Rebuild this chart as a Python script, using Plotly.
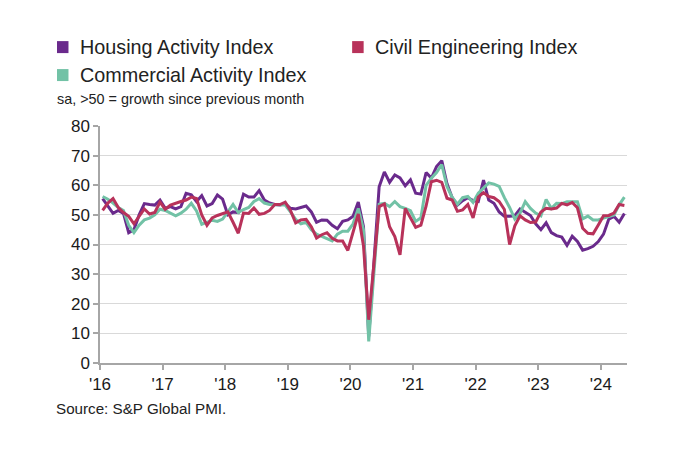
import plotly.graph_objects as go

# Monthly data, Jan 2016 .. May 2024 (101 months)
months = list(range(101))

housing = [
    55.5, 53.0, 50.5, 51.5, 50.5, 44.0, 45.0, 50.0, 53.8, 53.5, 53.3, 55.0,   # 2016
    52.2, 52.8, 52.0, 52.8, 57.3, 56.8, 54.5, 56.5, 53.0, 53.8, 56.7, 55.3,   # 2017
    50.0, 51.0, 50.8, 57.0, 56.0, 56.0, 58.2, 55.0, 54.0, 53.5, 53.3, 53.8,   # 2018
    52.2, 52.0, 52.5, 53.0, 51.0, 47.5, 48.3, 48.2, 46.5, 45.3, 47.8, 48.3,   # 2019
    49.5, 54.3, 46.0, 9.0, 34.0, 59.5, 64.5, 61.0, 63.5, 62.5, 59.8, 61.8,    # 2020
    57.3, 57.0, 64.3, 62.4, 66.3, 68.3, 60.5, 55.8, 53.3, 54.8, 55.8, 54.8,   # 2021
    54.5, 61.7, 55.0, 53.9, 51.0, 49.5, 49.5, 49.7, 52.0, 51.0, 49.8, 47.0,   # 2022
    45.0, 47.3, 44.0, 43.0, 42.5, 39.7, 42.8, 41.0, 38.1, 38.6, 39.4, 41.0,   # 2023
    43.5, 48.5, 49.5, 47.5, 50.5,                                             # 2024
]

commercial = [
    56.2, 55.3, 54.0, 52.5, 51.5, 46.5, 44.0, 46.5, 48.3, 48.9, 50.0, 51.9,
    51.5, 50.6, 49.7, 50.6, 51.9, 53.9, 51.3, 46.8, 47.5, 48.2, 47.8, 48.6,
    51.0, 53.5, 50.8, 51.8, 52.5, 54.5, 55.5, 54.0, 53.5, 53.5, 53.5, 53.3,
    51.0, 48.5, 47.0, 47.5, 45.0, 43.5, 42.7, 42.0, 41.2, 43.5, 44.5, 44.5,
    47.0, 52.2, 45.0, 7.3, 30.0, 53.6, 53.9, 52.8, 54.5, 52.8, 52.2, 51.4,
    47.8, 49.0, 60.0, 62.4, 64.3, 67.0, 59.6, 55.9, 53.6, 55.8, 56.2, 54.2,
    57.3, 59.0, 60.8, 60.4, 59.6, 55.8, 52.5, 48.6, 50.6, 54.5, 52.2, 50.6,
    49.7, 55.2, 52.2, 53.9, 53.8, 54.4, 54.4, 54.4, 48.7, 49.6, 48.3, 48.3,
    48.9, 49.4, 50.0, 53.4, 56.0,
]

civil = [
    51.5, 54.0, 55.5, 52.5, 50.8, 49.5, 47.0, 49.5, 52.0, 50.3, 50.8, 54.3,
    51.9, 53.3, 54.0, 54.5, 55.0, 56.0, 55.5, 50.0, 46.5, 49.0, 49.8, 50.5,
    51.0, 47.5, 43.8, 50.6, 50.5, 52.3, 50.2, 50.5, 51.5, 53.5, 53.5, 54.3,
    51.5, 47.3, 48.3, 48.5, 46.0, 42.2, 43.3, 44.0, 42.1, 41.2, 41.2, 38.0,
    44.0, 50.3, 39.5, 14.6, 33.5, 52.8, 53.7, 46.0, 42.7, 36.5, 52.2, 48.9,
    45.8, 46.5, 53.0, 61.2, 61.7, 61.0, 55.6, 55.0, 51.2, 51.7, 53.5, 49.0,
    56.0, 57.5, 56.2, 55.8, 54.5, 51.8, 40.0, 46.3, 49.7, 48.3, 47.4, 47.6,
    51.0, 52.2, 52.0, 52.3, 53.9, 53.4, 54.2, 52.4, 45.5, 43.8, 43.6, 46.6,
    49.7, 49.8, 50.6, 53.5, 53.2,
]

tick_positions = [-0.5 + 12 * k for k in range(9)]
tick_labels = ["'16", "'17", "'18", "'19", "'20", "'21", "'22", "'23", "'24"]

PURPLE = "#6a2a8c"
TEAL = "#72c2a6"
RED = "#b8325a"

OFF = 8  # page body margin
W, H = 685, 454
L, T = 92, 118
R = W + OFF - 626.7
B = H + OFF - 363.3

fig = go.Figure()
fig.add_trace(go.Scatter(x=months, y=housing, mode="lines", name="Housing Activity Index",
                         line=dict(color=PURPLE, width=3)))
fig.add_trace(go.Scatter(x=months, y=commercial, mode="lines", name="Commercial Activity Index",
                         line=dict(color=TEAL, width=3)))
fig.add_trace(go.Scatter(x=months, y=civil, mode="lines", name="Civil Engineering Index",
                         line=dict(color=RED, width=3)))

def xp(px):
    return (px - OFF - L) / (W - L - R)

def yp(py):
    return (H - B - (py - OFF)) / (H - T - B)

FONT = "Liberation Sans, Arial, sans-serif"

shapes = []
annotations = []
legend_items = [
    ("Housing Activity Index", PURPLE, 57, 47),
    ("Civil Engineering Index", RED, 352, 47),
    ("Commercial Activity Index", TEAL, 57, 75),
]
for label, col, sx, cy in legend_items:
    shapes.append(dict(type="rect", xref="paper", yref="paper",
                       x0=xp(sx), x1=xp(sx + 11.5), y0=yp(cy + 6), y1=yp(cy - 6),
                       fillcolor=col, line=dict(width=0)))
    annotations.append(dict(text=label, xref="paper", yref="paper",
                            x=xp(sx + 21), y=yp(cy), xanchor="left", yanchor="middle",
                            showarrow=False, font=dict(family=FONT, size=19.8, color="#222222")))

annotations.append(dict(text="sa, >50 = growth since previous month", xref="paper", yref="paper",
                        x=xp(55), y=yp(99), xanchor="left", yanchor="middle", showarrow=False,
                        font=dict(family=FONT, size=14.4, color="#222222")))
annotations.append(dict(text="Source: S&P Global PMI.", xref="paper", yref="paper",
                        x=xp(54), y=yp(409), xanchor="left", yanchor="middle", showarrow=False,
                        font=dict(family=FONT, size=15.2, color="#222222")))

fig.update_layout(
    width=W, height=H,
    margin=dict(l=L, r=R, t=T, b=B, pad=0),
    paper_bgcolor="white", plot_bgcolor="white",
    showlegend=False,
    shapes=shapes, annotations=annotations,
    font=dict(family=FONT, size=17, color="#1a1a1a"),
    xaxis=dict(range=[-0.5, 100.5], tickmode="array", tickvals=tick_positions, ticktext=tick_labels,
               showgrid=False, zeroline=False, showline=True, linecolor="#a6a6a6", linewidth=1.5,
               ticks="outside", ticklen=5, tickcolor="#a6a6a6", tickwidth=1.5,
               tickfont=dict(family=FONT, size=17, color="#1a1a1a")),
    yaxis=dict(range=[0, 80], dtick=10, tick0=0, showgrid=True, gridcolor="#d9d9d9", gridwidth=1,
               zeroline=False, showline=True, linecolor="#a6a6a6", linewidth=1.5,
               ticks="outside", ticklen=5, tickcolor="#a6a6a6", tickwidth=1.5,
               tickfont=dict(family=FONT, size=17, color="#1a1a1a")),
)

fig.write_html("out.html")
